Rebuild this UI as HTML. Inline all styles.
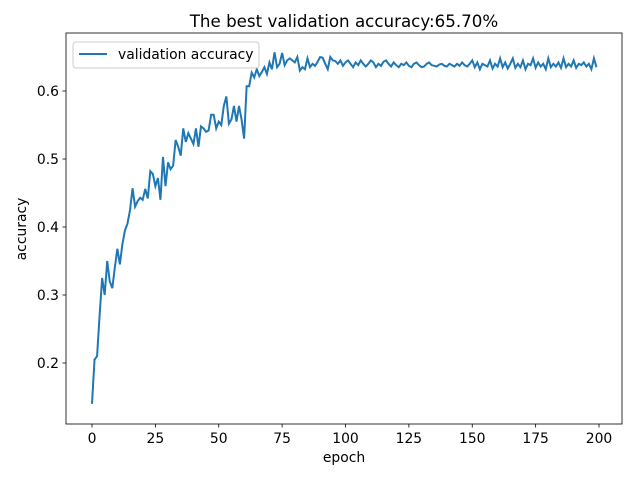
<!DOCTYPE html>
<html><head><meta charset="utf-8"><style>
body{margin:0;background:#fff;}
svg{display:block;font-family:"DejaVu Sans","Liberation Sans",sans-serif;}
</style></head><body>
<svg id="chart" width="640" height="480"></svg>
<script>
const epochs = [];
const accuracy = [0.14,0.205,0.21,0.27,0.325,0.30,0.35,0.32,0.31,0.34,0.368,0.345,0.375,0.395,0.405,0.425,0.457,0.43,0.438,0.443,
0.44,0.456,0.442,0.482,0.478,0.46,0.472,0.44,0.503,0.46,0.495,0.485,0.49,0.528,0.518,0.505,0.545,0.525,0.538,0.53,
0.522,0.545,0.518,0.548,0.545,0.54,0.542,0.565,0.565,0.545,0.555,0.55,0.578,0.592,0.552,0.558,0.578,0.555,0.578,0.558,
0.53,0.607,0.607,0.627,0.62,0.632,0.622,0.628,0.635,0.625,0.642,0.632,0.657,0.635,0.64,0.656,0.638,0.645,0.648,0.645,
0.642,0.65,0.63,0.635,0.632,0.648,0.635,0.64,0.637,0.643,0.65,0.649,0.64,0.632,0.65,0.645,0.644,0.64,0.645,0.637,
0.642,0.645,0.64,0.635,0.642,0.638,0.645,0.64,0.636,0.64,0.645,0.642,0.635,0.64,0.637,0.643,0.645,0.64,0.636,0.642,
0.638,0.635,0.64,0.638,0.642,0.637,0.635,0.64,0.642,0.638,0.635,0.636,0.64,0.642,0.638,0.637,0.636,0.639,0.64,0.637,
0.636,0.64,0.638,0.636,0.64,0.637,0.642,0.638,0.636,0.64,0.645,0.635,0.642,0.632,0.64,0.638,0.636,0.645,0.633,0.64,
0.636,0.648,0.635,0.642,0.633,0.64,0.648,0.634,0.64,0.635,0.645,0.632,0.64,0.638,0.648,0.634,0.642,0.636,0.64,0.632,
0.648,0.635,0.64,0.636,0.642,0.634,0.648,0.635,0.64,0.636,0.645,0.634,0.64,0.638,0.642,0.636,0.64,0.632,0.648,0.635];
for(let i=0;i<accuracy.length;i++) epochs.push(i);
const xTicks = [0,25,50,75,100,125,150,175,200];
const yTicks = [0.2,0.3,0.4,0.5,0.6];
const NS="http://www.w3.org/2000/svg";
const svg=document.getElementById('chart');
const X=v=>92+(v-0)*(599-92)/200;
const Y=v=>363-(v-0.2)*680;
function el(t,a,p){const e=document.createElementNS(NS,t);for(const k in a)e.setAttribute(k,a[k]);(p||svg).appendChild(e);return e;}
let e;
e=el('rect',{x:66,y:33,width:556,height:391,fill:'#fff',stroke:'#000','stroke-width':0.8});

xTicks.forEach(v=>{const x=X(v);
 e=el('line',{x1:x,x2:x,y1:424,y2:427.5,stroke:'#000','stroke-width':0.8});
 
 e=el('text',{x:x,y:443,'font-size':13.9,'text-anchor':'middle'});e.textContent=v;
 });
yTicks.forEach(v=>{const y=Y(v);
 e=el('line',{x1:62.5,x2:66,y1:y,y2:y,stroke:'#000','stroke-width':0.8});
 
 e=el('text',{x:59,y:y+5,'font-size':13.9,'text-anchor':'end'});e.textContent=v.toFixed(1);
 });
e=el('polyline',{points:epochs.map((x,i)=>X(x)+','+Y(accuracy[i])).join(' '),fill:'none',stroke:'#1f77b4','stroke-width':2});

e=el('text',{x:344,y:27,'font-size':16.7,'text-anchor':'middle'});e.textContent='The best validation accuracy:65.70%';

e=el('text',{x:344,y:462,'font-size':13.9,'text-anchor':'middle'});e.textContent='epoch';

e=el('text',{x:26,y:229,'font-size':13.9,'text-anchor':'middle',transform:'rotate(-90 26 229)'});e.textContent='accuracy';

const g=el('g',{});
el('rect',{x:73,y:42,width:186,height:26,rx:3,fill:'#fff','fill-opacity':0.8,stroke:'#ccc','stroke-width':1},g);
el('line',{x1:79,x2:107,y1:54,y2:54,stroke:'#1f77b4','stroke-width':2},g);
e=el('text',{x:118,y:59,'font-size':13.9},g);e.textContent='validation accuracy';

</script>
</body></html>
